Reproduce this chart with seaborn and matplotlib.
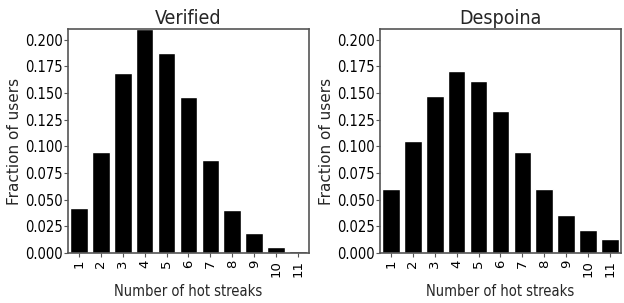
import numpy as np
import pandas as pd
import seaborn as sns
from matplotlib import pyplot as plt

streaks = [str(i) for i in range(1, 12)]
verified = [0.042, 0.095, 0.169, 0.210, 0.188, 0.146, 0.087, 0.040, 0.0185, 0.0053, 0.0016]
despoina = [0.060, 0.105, 0.147, 0.171, 0.161, 0.133, 0.095, 0.060, 0.036, 0.0215, 0.013]
titles = ['Verified', 'Despoina']
yticks = [0.0, 0.025, 0.05, 0.075, 0.1, 0.125, 0.15, 0.175, 0.2]

sns.set_style('white')
plt.rcParams['font.family'] = ['DejaVu Sans']
plt.rcParams['axes.edgecolor'] = '#555555'
plt.rcParams['xtick.color'] = '#555555'
plt.rcParams['ytick.color'] = '#555555'
plt.rcParams['xtick.labelcolor'] = 'black'
plt.rcParams['ytick.labelcolor'] = 'black'

fig = plt.figure(figsize=(6.24, 3.03), dpi=100)
positions = [[0.109, 0.165, 0.386, 0.739], [0.609, 0.165, 0.386, 0.739]]

for pos, title, vals in zip(positions, titles, [verified, despoina]):
    ax = fig.add_axes(pos)
    df = pd.DataFrame({'streaks': streaks, 'fraction': vals})
    sns.barplot(data=df, x='streaks', y='fraction', color='black', saturation=1, width=0.8, ax=ax)
    ax.set_ylim(0, 0.21)
    ax.set_yticks(yticks)
    ax.set_yticklabels(['%.3f' % v for v in yticks], fontsize=10.5, stretch='condensed')
    ax.tick_params(axis='x', labelrotation=90, labelsize=9.5, length=3, pad=2)
    ax.tick_params(axis='y', length=3, pad=1)
    ax.tick_params(bottom=True, left=True)
    ax.set_title(title, fontsize=14, stretch='condensed', pad=4)
    ax.set_xlabel('Number of hot streaks', fontsize=10.5, stretch='condensed', labelpad=5)
    ax.set_ylabel('Fraction of users', fontsize=11)
    ax.yaxis.set_label_coords(-0.19, 0.5)
    for s in ax.spines.values():
        s.set_linewidth(1.2)

fig.savefig('out.png', dpi=100)
